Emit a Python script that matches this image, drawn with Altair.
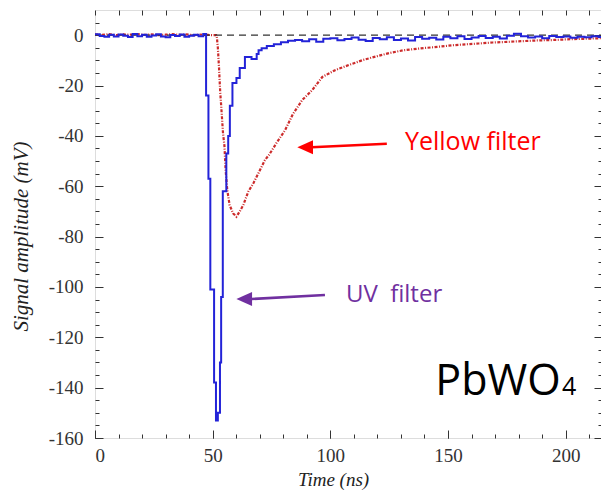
import altair as alt
import pandas as pd

# ---------------- data ----------------
uv_time = [0, 2, 4, 6, 8, 10, 12, 14, 16, 18, 20, 22, 24, 26, 28, 30, 32, 34, 36, 38, 40, 42, 44, 46,
           47.2, 48.2, 49.0, 50.6, 51.4, 52.2, 53.1, 53.6, 54.3, 55.8, 56.6, 57.3, 58.4, 60.1, 61.5,
           63.7, 66.5, 68.7, 69.5, 70.8, 73, 76, 79, 82, 85, 88, 91, 94, 97,
           100, 103, 106, 109, 112, 115, 118, 121, 124, 127, 130, 133, 136, 139, 142, 145, 148, 151,
           154, 157, 160, 163, 166, 169, 172, 175, 178, 181, 184, 187, 190, 193, 196, 199, 202, 205,
           208, 211, 214, 217]
uv_signal = [0.4, -0.3, -0.6, 0.2, -0.5, 0.3, -0.2, -0.7, 0.5, -0.4, 0.2, -0.6, -0.1, 0.4, -0.5, -0.8,
             0.1, -0.3, 0.3, -0.6, -0.2, 0.2, -0.4, 0.5,
             -24, -57, -101, -138, -153, -150, -130, -104, -62, -47, -40, -28, -19, -17, -13,
             -8.7, -9.5, -7.5, -6, -5.2, -4.3, -3.6, -2.8, -2.2, -1.9, -2.4, -1.6, -2.6, -1.4,
             -1.2, -2.0, -1.5, -0.9, -1.8, -2.3, -1.1, -1.6, -0.8, -1.9, -1.3, -2.1, -0.7, -1.4,
             -1.0, -1.7, -0.6, -1.2, -0.4, -1.5, -0.9, -0.3, -1.1, -0.6, -1.3, -0.2, 0.6, -0.4,
             -0.9, -0.5, -1.2, -0.3, -0.7, -0.5, -1.0, -0.6, -0.8, -0.4, -0.7, -0.5]

yellow_time = [0, 3, 6, 9, 12, 15, 18, 21, 24, 27, 30, 33, 36, 39, 42, 45, 48, 50, 51.5,
               51.8, 52.2, 52.7, 53.2, 53.6, 54.4, 55.0, 55.5, 56.2, 57.2, 58.7, 60.1, 61.5,
               63.0, 65.1, 67.3, 69.4, 72.2, 74, 77, 80.8, 84, 88, 92.3, 96.6, 102, 108,
               113.7, 120, 125, 131, 140, 146, 152, 158, 163, 169, 174, 181, 188, 195, 202,
               209, 215]
yellow_signal = [0.3, 0.1, 0.4, 0.0, 0.3, 0.2, 0.4, 0.1, 0.3, 0.0, 0.2, 0.4, 0.1, 0.3, 0.0, 0.2, 0.1, 0.0, 0.0,
                 -1, -5, -13, -22.6, -27.8, -39, -44, -53.6, -61.5, -67.5, -70.8, -72.1, -70,
                 -67.5, -62.2, -58.8, -54.9, -49.6, -47.5, -43, -37.7, -31.5, -25.8, -21.8, -16.6,
                 -13.9, -11.8, -9.9, -8.3, -7.1, -6.0, -5.1, -4.6, -4.0, -3.6, -3.3, -2.9, -2.7,
                 -2.4, -2.1, -1.9, -1.6, -1.4, -1.2]

zero_line = {"x0": [0], "x1": [215], "v": [0]}

arrow_x0 = [124.0, 97.7]
arrow_x1 = [92.0, 66.5]
arrow_y0 = [-43.1, -103.2]
arrow_y1 = [-44.5, -104.8]
arrow_tip_x = [89.3, 63.4]
arrow_tip_y = [-44.5, -104.8]
arrow_colors = ["#ff0000", "#7030a0"]

label_text = ["Yellow filter", "UV\u00a0 filter", "PbWO", "4"]
label_x = [131.7, 106.6, 144.6, 198.4]
label_y = [-45.5, -106.0, -142.9, -142.9]
label_size = [25, 24, 43, 25]
label_color = ["#ff0000", "#7030a0", "#000000", "#000000"]

x_ticks_major = [0, 50, 100, 150, 200]
x_ticks_minor = list(range(0, 215, 10))
y_ticks_major = list(range(-160, 1, 20))
y_ticks_minor = list(range(-160, 10, 5))

# ---------------- frames ----------------
df_uv = pd.DataFrame({"t": uv_time, "v": uv_signal})
df_yel = pd.DataFrame({"t": yellow_time, "v": yellow_signal})
df_zero = pd.DataFrame(zero_line)
df_arrow = pd.DataFrame({"x0": arrow_x0, "x1": arrow_x1, "y0": arrow_y0, "y1": arrow_y1,
                         "tx": arrow_tip_x, "ty": arrow_tip_y, "c": arrow_colors})
df_lab = pd.DataFrame({"txt": label_text, "x": label_x, "y": label_y,
                       "s": label_size, "c": label_color})

XS = alt.Scale(domain=[0, 215], nice=False, zero=False)
YS = alt.Scale(domain=[-160, 10], nice=False, zero=False)

SERIF = "Liberation Serif"
TICK = "#333333"

def ax(orient, values, size, labels=False, **kw):
    base = dict(orient=orient, values=values, tickSize=size, offset=-size, domain=False,
                grid=False, tickColor=TICK, tickWidth=1, labels=labels, title=None)
    base.update(kw)
    return alt.Axis(**base)

uv = alt.Chart(df_uv).mark_line(color="#2323d8", strokeWidth=2, interpolate="step-after").encode(
    x=alt.X("t:Q", scale=XS, axis=ax(
        "bottom", x_ticks_major, 8, labels=True, labelFont=SERIF, labelFontSize=19,
        labelColor="#333333", labelPadding=8, labelExpr="datum.value + ''",
        title="Time (ns)", titleFont=SERIF, titleFontStyle="italic", titleFontWeight="normal",
        titleFontSize=19, titleColor="#222222", titleX=238, titleY=55,
        titleBaseline="alphabetic", titleAlign="center")),
    y=alt.Y("v:Q", scale=YS, axis=ax(
        "left", y_ticks_major, 8, labels=True, labelFont=SERIF, labelFontSize=19,
        labelColor="#333333", labelPadding=12, labelExpr="datum.value + ''",
        title="Signal amplitude (mV)", titleFont=SERIF, titleFontStyle="italic",
        titleFontWeight="normal", titleFontSize=21, titleColor="#222222", titlePadding=17,
        titleY=226)),
)

yel = alt.Chart(df_yel).mark_line(color="#cc2b2b", strokeWidth=2.2,
                                  strokeDash=[3, 1.5, 1, 1.5]).encode(
    x=alt.X("t:Q", scale=XS, axis=ax("bottom", x_ticks_minor, 4)),
    y=alt.Y("v:Q", scale=YS, axis=ax("left", y_ticks_minor, 4)),
)

zero = alt.Chart(df_zero).mark_rule(color="#333333", strokeWidth=1.3, strokeDash=[7, 5]).encode(
    x=alt.X("x0:Q", scale=XS, axis=ax("top", x_ticks_minor, 5)),
    x2="x1:Q",
    y=alt.Y("v:Q", scale=YS, axis=ax("right", y_ticks_major, 7)),
)

arrows = alt.Chart(df_arrow).mark_rule(strokeWidth=2.6).encode(
    x=alt.X("x0:Q", scale=XS, axis=None),
    x2="x1:Q",
    y=alt.Y("y0:Q", scale=YS, axis=ax("right", y_ticks_minor, 3)),
    y2="y1:Q",
    color=alt.Color("c:N", scale=None),
)

heads = alt.Chart(df_arrow).mark_point(filled=True, opacity=1, size=246,
                                       shape="M -1 0 L 1 -0.9 L 1 0.9 Z").encode(
    x=alt.X("tx:Q", scale=XS, axis=None),
    y=alt.Y("ty:Q", scale=YS, axis=None),
    color=alt.Color("c:N", scale=None),
)

labels = alt.Chart(df_lab).mark_text(align="left", baseline="alphabetic", font="Open Sans").encode(
    x=alt.X("x:Q", scale=XS, axis=None),
    y=alt.Y("y:Q", scale=YS, axis=None),
    text="txt:N",
    size=alt.Size("s:Q", scale=None),
    color=alt.Color("c:N", scale=None),
)

chart = alt.layer(yel, zero, uv, arrows, heads, labels).resolve_axis(
    x="independent", y="independent"
).properties(
    width=506, height=428, autosize="none",
    padding={"left": 87, "top": 2, "right": 0, "bottom": 52},
).configure_view(stroke="#222222", strokeWidth=1.5).configure(background="white")

chart.save("out.html", embed_options={"renderer": "svg", "actions": False})
